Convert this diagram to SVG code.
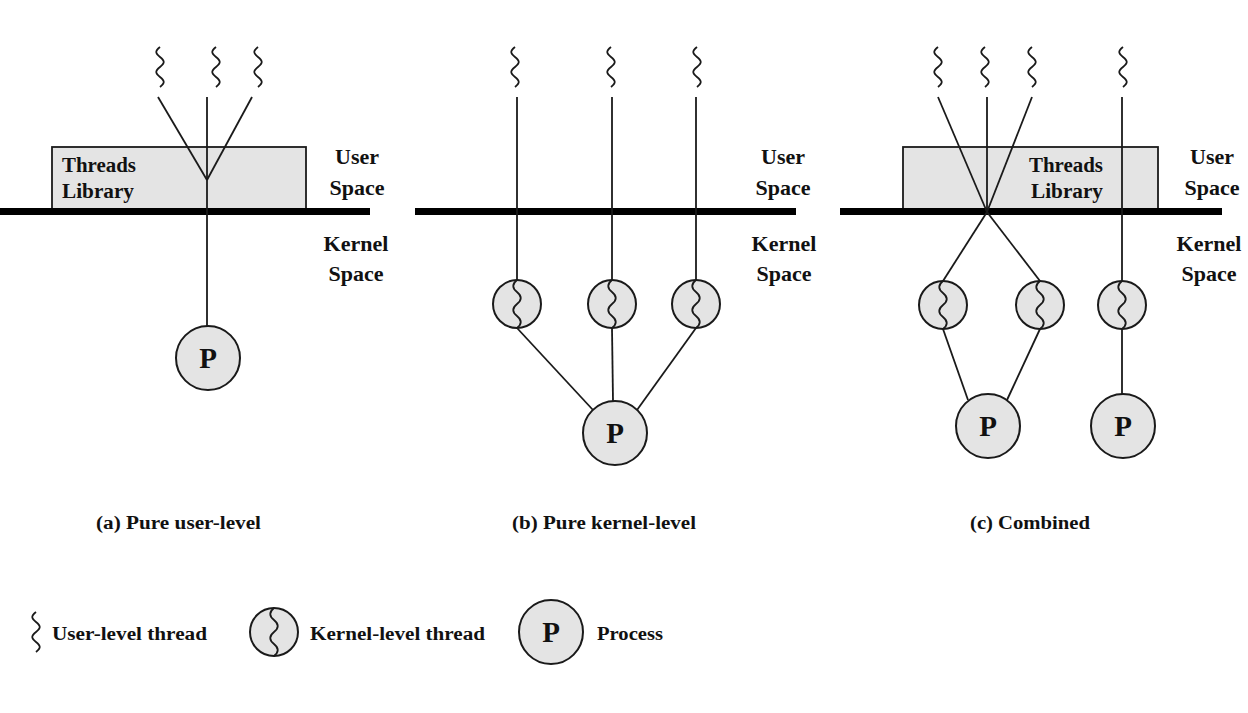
<svg xmlns="http://www.w3.org/2000/svg" width="1248" height="713" viewBox="0 0 1248 713">
<defs>
<style>
.ln{stroke:#1a1a1a;stroke-width:1.8;fill:none}
.sq{stroke:#1a1a1a;stroke-width:1.8;fill:none}
.bar{stroke:#000;stroke-width:7;fill:none}
.box{fill:#e4e4e4;stroke:#1a1a1a;stroke-width:1.8}
.kc{fill:#e4e4e4;stroke:#1a1a1a;stroke-width:2}
.t{font-family:"Liberation Serif",serif;font-weight:bold;fill:#111}
.lab{font-size:22px;text-anchor:middle}
.lib{font-size:20px}
.pp{font-size:29px;text-anchor:middle}
.cap{font-size:18px}
.leg{font-size:18px}
</style>
<path id="ut" d="M0,0 c-5,4 -5,6 0,10 c5,4 5,6 0,10 c-5,4 -5,6 0,10 c5,4 5,6 0,10"/>
<path id="kt" d="M0,-24 c-5,4 -5,8 0,12 c5,4 5,8 0,12 c-5,4 -5,8 0,12 c5,4 5,8 0,12"/>
</defs>
<rect width="1248" height="713" fill="#fff"/>

<!-- Panel (a) -->
<g id="panel-a">
  <rect class="box" x="52" y="147" width="254" height="62"/>
  <text class="t lib" x="62" y="172" textLength="74" lengthAdjust="spacingAndGlyphs">Threads</text>
  <text class="t lib" x="62" y="198" textLength="72" lengthAdjust="spacingAndGlyphs">Library</text>
  <line class="bar" x1="0" y1="211.5" x2="370" y2="211.5"/>
  <text class="t lab" x="357" y="164">User</text>
  <text class="t lab" x="357" y="195">Space</text>
  <text class="t lab" x="356" y="251">Kernel</text>
  <text class="t lab" x="356" y="281">Space</text>
</g>
<g id="ut-a1"><use href="#ut" class="sq" x="160" y="47"/></g>
<g id="ut-a2"><use href="#ut" class="sq" x="216" y="47"/></g>
<g id="ut-a3"><use href="#ut" class="sq" x="258" y="47"/></g>
<g id="proc-a">
  <circle class="kc" cx="208" cy="358" r="32"/>
  <text class="t pp" x="208" y="368">P</text>
</g>

<!-- Panel (b) -->
<g id="panel-b">
  <line class="bar" x1="415" y1="211.5" x2="796" y2="211.5"/>
  <text class="t lab" x="783" y="164">User</text>
  <text class="t lab" x="783" y="195">Space</text>
  <text class="t lab" x="784" y="251">Kernel</text>
  <text class="t lab" x="784" y="281">Space</text>
</g>
<g id="ut-b1"><use href="#ut" class="sq" x="515" y="47"/></g>
<g id="ut-b2"><use href="#ut" class="sq" x="611" y="47"/></g>
<g id="ut-b3"><use href="#ut" class="sq" x="697" y="47"/></g>
<g id="kt-b1"><circle class="kc" cx="517" cy="304" r="24"/><use href="#kt" class="sq" x="517" y="304"/></g>
<g id="kt-b2"><circle class="kc" cx="612" cy="304" r="24"/><use href="#kt" class="sq" x="612" y="304"/></g>
<g id="kt-b3"><circle class="kc" cx="696" cy="304" r="24"/><use href="#kt" class="sq" x="696" y="304"/></g>
<g id="proc-b">
  <circle class="kc" cx="615" cy="433" r="32"/>
  <text class="t pp" x="615" y="443">P</text>
</g>

<!-- Panel (c) -->
<g id="panel-c">
  <rect class="box" x="903" y="147" width="255" height="62"/>
  <text class="t lib" x="1029" y="172" textLength="74" lengthAdjust="spacingAndGlyphs">Threads</text>
  <text class="t lib" x="1031" y="198" textLength="72" lengthAdjust="spacingAndGlyphs">Library</text>
  <line class="bar" x1="840" y1="211.5" x2="1222" y2="211.5"/>
  <text class="t lab" x="1212" y="164">User</text>
  <text class="t lab" x="1212" y="195">Space</text>
  <text class="t lab" x="1209" y="251">Kernel</text>
  <text class="t lab" x="1209" y="281">Space</text>
</g>
<g id="ut-c1"><use href="#ut" class="sq" x="938" y="47"/></g>
<g id="ut-c2"><use href="#ut" class="sq" x="985" y="47"/></g>
<g id="ut-c3"><use href="#ut" class="sq" x="1032" y="47"/></g>
<g id="ut-c4"><use href="#ut" class="sq" x="1123" y="47"/></g>
<g id="kt-c1"><circle class="kc" cx="943" cy="305" r="24"/><use href="#kt" class="sq" x="943" y="305"/></g>
<g id="kt-c2"><circle class="kc" cx="1040" cy="305" r="24"/><use href="#kt" class="sq" x="1040" y="305"/></g>
<g id="kt-c3"><circle class="kc" cx="1122" cy="305" r="24"/><use href="#kt" class="sq" x="1122" y="305"/></g>
<g id="proc-c1">
  <circle class="kc" cx="988" cy="426" r="32"/>
  <text class="t pp" x="988" y="436">P</text>
</g>
<g id="proc-c2">
  <circle class="kc" cx="1123" cy="426" r="32"/>
  <text class="t pp" x="1123" y="436">P</text>
</g>

<!-- Connectors -->
<g id="connectors">
  <line class="ln" x1="158" y1="97" x2="207" y2="180"/>
  <line class="ln" x1="252" y1="97" x2="207" y2="180"/>
  <line class="ln" x1="207" y1="97" x2="207" y2="326"/>

  <line class="ln" x1="517" y1="97" x2="517" y2="280"/>
  <line class="ln" x1="612" y1="97" x2="612" y2="280"/>
  <line class="ln" x1="696" y1="97" x2="696" y2="280"/>
  <line class="ln" x1="517" y1="328" x2="593" y2="410"/>
  <line class="ln" x1="612" y1="328" x2="613" y2="401"/>
  <line class="ln" x1="696" y1="328" x2="637" y2="410"/>

  <line class="ln" x1="938" y1="97" x2="987" y2="212"/>
  <line class="ln" x1="987" y1="97" x2="987" y2="212"/>
  <line class="ln" x1="1032" y1="97" x2="987" y2="212"/>
  <line class="ln" x1="987" y1="212" x2="943" y2="281"/>
  <line class="ln" x1="987" y1="212" x2="1040" y2="281"/>
  <line class="ln" x1="1122" y1="97" x2="1122" y2="281"/>
  <line class="ln" x1="943" y1="329" x2="968" y2="400"/>
  <line class="ln" x1="1040" y1="329" x2="1007" y2="400"/>
  <line class="ln" x1="1122" y1="329" x2="1122" y2="394"/>
</g>

<!-- Captions -->
<g id="captions">
  <text class="t cap" x="96" y="529" textLength="165" lengthAdjust="spacingAndGlyphs">(a) Pure user-level</text>
  <text class="t cap" x="512" y="529" textLength="184" lengthAdjust="spacingAndGlyphs">(b) Pure kernel-level</text>
  <text class="t cap" x="970" y="529" textLength="120" lengthAdjust="spacingAndGlyphs">(c) Combined</text>
</g>

<!-- Legend -->
<g id="legend-ut">
  <use href="#ut" class="sq" x="36" y="612"/>
  <text class="t leg" x="52" y="640" textLength="155" lengthAdjust="spacingAndGlyphs">User-level thread</text>
</g>
<g id="legend-kt">
  <circle class="kc" cx="274" cy="632" r="24"/>
  <use href="#kt" class="sq" x="274" y="632"/>
  <text class="t leg" x="310" y="640" textLength="175" lengthAdjust="spacingAndGlyphs">Kernel-level thread</text>
</g>
<g id="legend-p">
  <circle class="kc" cx="551" cy="632" r="32"/>
  <text class="t pp" x="551" y="642">P</text>
  <text class="t leg" x="597" y="640" textLength="66" lengthAdjust="spacingAndGlyphs">Process</text>
</g>
</svg>
